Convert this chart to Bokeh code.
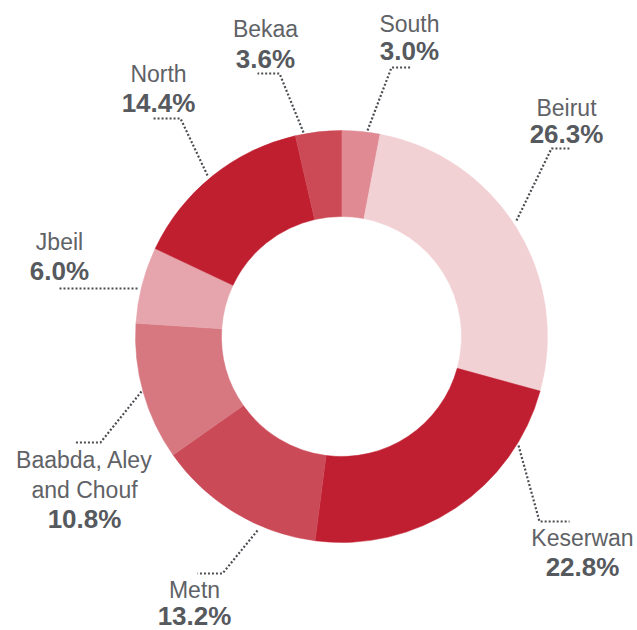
import numpy as np
from bokeh.plotting import figure
from bokeh.models import Range1d, ColumnDataSource
from bokeh.core.properties import value
from bokeh.embed import file_html
from bokeh.resources import INLINE

# ---- data (clockwise from 12 o'clock) ----
regions = ["South", "Beirut", "Keserwan", "Metn", "Baabda, Aley and Chouf", "Jbeil", "North", "Bekaa"]
shares = [3.0, 26.3, 22.8, 13.2, 10.8, 6.0, 14.4, 3.6]
colors = ["#e08b94", "#f2d1d5", "#c01f31", "#cb4a58", "#d77780", "#e6a5ac", "#c01f30", "#cc4a56"]
pct_labels = [f"{s:.1f}%" for s in shares]

# ---- layout (page pixel coordinates) ----
CX, CY = 341, 336
R_OUT, R_IN = 206, 120
name_lines = [["South"], ["Beirut"], ["Keserwan"], ["Metn"], ["Baabda, Aley", "and Chouf"],
              ["Jbeil"], ["North"], ["Bekaa"]]
label_x = [409, 566, 582, 194, 84, 59, 158, 265]
name_baseline = [32, 116, 546, 598, 468, 250, 82, 37]
pct_baseline = [59, 142, 575, 624, 527, 279, 111, 67]
TEXT_SHIFT = 9
LINE_GAP = 30
leaders = [
    [(367, 130), (391, 67), (410, 67)],
    [(516, 220), (551, 148), (569, 148)],
    [(518, 445), (539, 521), (569, 521)],
    [(257, 530), (222, 573), (197, 573)],
    [(141, 391), (100, 442), (75, 442)],
    [(137, 288), (57, 288)],
    [(207, 175), (180, 118), (153, 118)],
    [(303, 132), (279, 73), (257, 73)],
]

X0, Y0 = 0, 0
W, H = 637, 630
p = figure(width=W, height=H, output_backend="svg", toolbar_location=None,
           x_range=Range1d(X0 - CX, X0 + W - CX), y_range=Range1d(CY - (Y0 + H), CY - Y0),
           min_border=0, outline_line_color=None, background_fill_color="white")
p.axis.visible = False
p.grid.visible = False

frac = np.array(shares) / np.sum(shares)
cum_end = np.cumsum(frac)
cum_start = cum_end - frac
src = ColumnDataSource(dict(
    region=regions, share=shares, color=colors,
    start=np.pi / 2 - 2 * np.pi * cum_end,
    end=np.pi / 2 - 2 * np.pi * cum_start,
))
p.annular_wedge(x=0, y=0, inner_radius=R_IN, outer_radius=R_OUT,
                start_angle="start", end_angle="end", direction="anticlock",
                fill_color="color", line_color="color", line_width=0.5, source=src)

# leader lines
xs = [[pt[0] - CX for pt in l] for l in leaders]
ys = [[CY - pt[1] for pt in l] for l in leaders]
p.multi_line(xs=xs, ys=ys, line_color="#4a4d51", line_width=2.2, line_dash="2 2")

# labels
tx, ty, tt = [], [], []
for i, lines in enumerate(name_lines):
    for j, ln in enumerate(lines):
        tx.append(label_x[i] - CX)
        ty.append(CY - (name_baseline[i] + j * LINE_GAP - TEXT_SHIFT))
        tt.append(ln)
p.text(x=tx, y=ty, text=tt, text_font=value("Liberation Sans"), text_font_size="23px",
       text_color="#5f6266", text_align="center", text_baseline="alphabetic")
p.text(x=[x - CX for x in label_x], y=[CY - (b - TEXT_SHIFT) for b in pct_baseline], text=pct_labels,
       text_font=value("Liberation Sans"), text_font_size="26px", text_font_style="bold",
       text_color="#56595d", text_align="center", text_baseline="alphabetic")

open("out.html", "w").write(file_html(p, INLINE))
